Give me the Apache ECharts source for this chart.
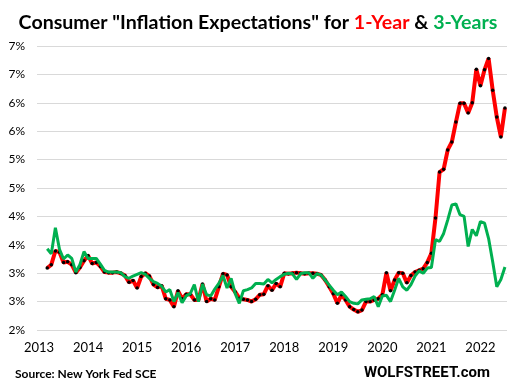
<!DOCTYPE html>
<html>
<head>
<meta charset="utf-8">
<script src="https://cdn.jsdelivr.net/npm/echarts@6/dist/echarts.min.js"></script>
<style>html,body{margin:0;padding:0;background:#fff}#c{width:516px;height:390px}</style>
</head>
<body>
<div id="c"></div>
<script>
// Monthly survey, first value = June 2013, last = October 2022
const axisStart = [2013, 4]; // axis begins April 2013 (two empty months before the first value)
const firstValue = [2013, 6];
const yearLabels = ['2013','2014','2015','2016','2017','2018','2019','2020','2021','2022'];
const yTicks = [2, 2.5, 3, 3.5, 4, 4.5, 5, 5.5, 6, 6.5, 7];

const oneYear = [
3.09,3.15,3.39,3.37,3.19,3.20,3.15,3.01,3.10,3.22,3.31,3.17,3.19,3.12,3.02,3.01,3.01,3.02,3.00,2.96,
2.84,2.87,2.74,2.94,3.00,2.95,2.80,2.75,2.78,2.55,2.53,2.41,2.69,2.55,2.63,2.63,2.53,2.53,2.81,2.50,
2.55,2.53,2.76,2.99,2.97,2.76,2.67,2.56,2.54,2.53,2.50,2.54,2.62,2.63,2.78,2.70,2.82,2.76,3.00,2.99,
3.00,3.01,3.00,2.99,3.00,3.00,2.99,2.97,2.88,2.76,2.64,2.47,2.62,2.53,2.41,2.36,2.32,2.35,2.50,2.50,
2.53,2.55,2.62,3.01,2.69,2.88,3.01,3.00,2.83,2.96,3.02,3.05,3.08,3.19,3.35,3.97,4.78,4.83,5.17,5.31,
5.66,5.99,5.99,5.82,6.00,6.59,6.30,6.58,6.78,6.22,5.75,5.40,5.91
];
const threeYear = [
3.43,3.34,3.80,3.42,3.25,3.32,3.26,3.02,3.15,3.38,3.26,3.26,3.26,3.16,3.05,3.02,3.02,3.02,3.01,2.94,
2.91,2.95,2.98,3.01,2.98,2.91,2.85,2.82,2.77,2.67,2.71,2.50,2.66,2.48,2.60,2.64,2.80,2.50,2.81,2.62,
2.60,2.72,2.82,2.96,2.74,2.91,2.64,2.47,2.69,2.71,2.74,2.82,2.82,2.81,2.89,2.83,2.89,2.94,2.98,3.00,
2.99,2.89,2.99,3.01,3.01,2.91,2.99,2.97,2.88,2.79,2.70,2.62,2.67,2.59,2.50,2.47,2.46,2.53,2.54,2.55,
2.59,2.41,2.60,2.61,2.50,2.70,2.91,2.76,2.70,2.80,2.95,3.04,3.00,3.09,3.10,3.59,3.56,3.70,3.94,4.20,
4.22,4.03,4.00,3.47,3.77,3.66,3.91,3.88,3.61,3.20,2.76,2.89,3.11
];

// build month categories
const lead = (firstValue[0]-axisStart[0])*12 + (firstValue[1]-axisStart[1]);
const total = lead + oneYear.length;
const cats = [];
for (let i = 0; i < total; i++) {
  const m = axisStart[1] - 1 + i;
  const y = axisStart[0] + Math.floor(m / 12);
  cats.push(y + '-' + String(m % 12 + 1).padStart(2, '0'));
}
const pad = new Array(lead).fill(null);
const s1 = pad.concat(oneYear);
const s3 = pad.concat(threeYear);

const chart = echarts.init(document.getElementById('c'), null, {renderer: 'canvas'});
chart.setOption({
  animation: false,
  backgroundColor: '#ffffff',
  title: {
    left: 'center', top: 8,
    text: '{a|Consumer "Inflation Expectations" for }{r|1-Year}{a| & }{g|3-Years}',
    textStyle: {
      rich: {
        a: {fontFamily: 'Lato', fontWeight: 'bold', fontSize: 19.6, color: '#000000'},
        r: {fontFamily: 'Lato', fontWeight: 'bold', fontSize: 19.6, color: '#ff0000'},
        g: {fontFamily: 'Lato', fontWeight: 'bold', fontSize: 19.6, color: '#00b050'}
      }
    }
  },
  grid: {left: 37, right: 9, top: 46, bottom: 60, containLabel: false},
  xAxis: {
    type: 'category',
    data: cats,
    boundaryGap: true,
    axisLine: {show: false},
    axisTick: {show: false},
    axisLabel: {
      interval: 11,
      margin: 11,
      fontFamily: 'Lato', fontSize: 13, color: '#000000',
      formatter: v => yearLabels.indexOf(v.slice(0, 4)) >= 0 ? v.slice(0, 4) : ''
    },
    splitLine: {show: false}
  },
  yAxis: {
    type: 'value',
    min: yTicks[0], max: yTicks[yTicks.length - 1], interval: 0.5,
    axisLine: {show: false},
    axisTick: {show: false},
    axisLabel: {
      margin: 12,
      fontFamily: 'Lato', fontSize: 12, color: '#000000',
      formatter: v => Math.round(v) + '%'
    },
    splitLine: {lineStyle: {color: '#d9d9d9', width: 1}}
  },
  series: [
    {
      name: '1-Year', type: 'line', data: s1,
      lineStyle: {color: '#ff0000', width: 4},
      itemStyle: {color: '#000000', borderWidth: 0},
      symbol: 'circle', symbolSize: 3.5, showSymbol: true, showAllSymbol: true,
      z: 2
    },
    {
      name: '3-Years', type: 'line', data: s3,
      lineStyle: {color: '#00b050', width: 3},
      itemStyle: {color: '#00b050'},
      symbol: 'none',
      z: 3
    }
  ],
  graphic: [
    {type: 'text', left: 15, top: 368,
     style: {text: 'Source: New York Fed SCE', fontFamily: 'Lato', fontWeight: 'bold', fontSize: 12, fill: '#000000'}},
    {type: 'text', right: 26, top: 366,
     style: {text: 'WOLFSTREET.com', fontFamily: 'Roboto', fontWeight: 'bold', fontSize: 15, fill: '#000000'}}
  ]
});
</script>
</body>
</html>
